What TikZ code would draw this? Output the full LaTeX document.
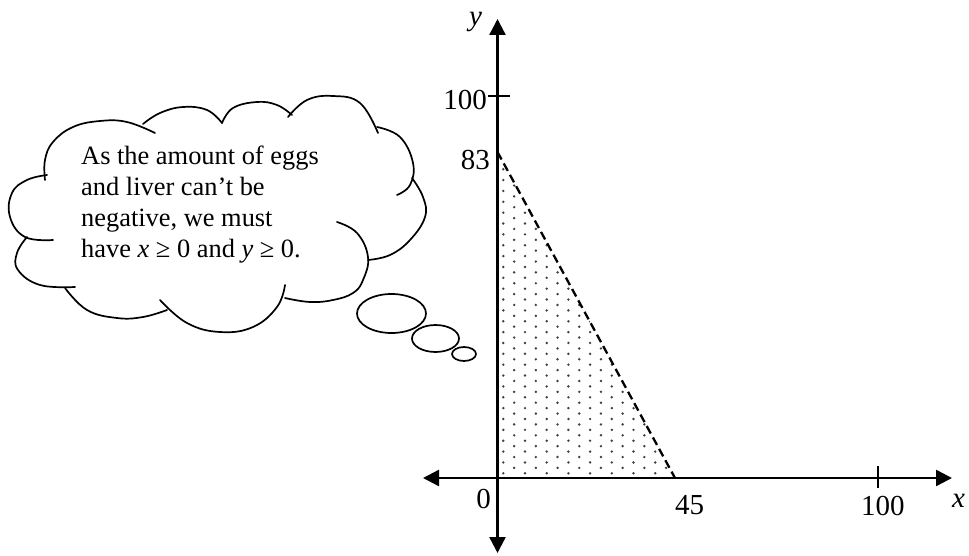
\documentclass[tikz,border=0pt]{standalone}
\usepackage{fontspec}
\setmainfont{Liberation Serif}
\usetikzlibrary{arrows.meta}
\begin{document}
\begin{tikzpicture}[x=1pt,y=-1pt,
  axisline/.style={line width=2.4pt},
  tip/.tip={Triangle[length=16pt,width=16pt]},
  ticks/.style={line width=1.8pt},
  cloudline/.style={line width=1.7pt, line cap=round},
  numlabel/.style={font=\fontsize{29}{32}\selectfont, inner sep=0pt},
  dotcol/.style={fill=black!75}]
\useasboundingbox (0,0) rectangle (969,556);

% axis coordinates
\coordinate (xl) at (423,478);
\coordinate (xr) at (952,478);
\coordinate (yb) at (497.5,553);
\coordinate (yt) at (497.5,19);
\coordinate (o) at (497.5,478);
\coordinate (p83) at (497.5,152);
\coordinate (p45) at (675,478);
\coordinate (ty1) at (488,96);
\coordinate (ty2) at (510,96);
\coordinate (tx1) at (878,466);
\coordinate (tx2) at (878,488);

% dotted region
\begin{scope}
  \clip (p83) -- (p45) -- (o) -- cycle;
  \foreach \i in {0,...,17} {
    \pgfmathsetmacro{\off}{mod(\i,2)*5.43}
    \foreach \j in {0,...,31} {
      \fill[dotcol] (503.3+\i*10.85, 473.3-\off-\j*10.86) circle (1.35);
    }
  }
\end{scope}

% dashed boundary
\draw[line width=2.3pt, dash pattern=on 8.5pt off 4.5pt] (p83) -- (p45);

% axes
\draw[axisline, {tip}-{tip}] (xl) -- (xr);
\draw[axisline, {tip}-{tip}] (yb) -- (yt);
\draw[ticks] (ty1) -- (ty2);
\draw[ticks] (tx1) -- (tx2);

% labels
\node[numlabel, anchor=base east] (l100y) at (487,110) {100};
\node[numlabel, anchor=base east] (l83) at (490,170) {83};
\node[numlabel, anchor=base east] (l0) at (491,508) {0};
\node[numlabel, anchor=base west] (l45) at (675,514) {45};
\node[numlabel, anchor=base west] (l100x) at (861,515) {100};
\node[numlabel, anchor=base west] (lx) at (952,507) {\itshape x};
\node[numlabel, anchor=base west] (ly) at (469,26) {\itshape y};

% cloud
\draw[cloudline] plot[smooth, tension=0.7] coordinates {(45,180) (45,160) (53,142) (73,127) (100,121) (127,122) (155,133)};
\draw[cloudline] plot[smooth, tension=0.7] coordinates {(143,124) (160,113) (183,107) (207,110) (222,123)};
\draw[cloudline] plot[smooth, tension=0.7] coordinates {(222,123) (233,108) (257,102) (277,105) (292,115)};
\draw[cloudline] plot[smooth, tension=0.7] coordinates {(288,117) (307,100) (333,96) (360,103) (378,133)};
\draw[cloudline] plot[smooth, tension=0.7] coordinates {(377,127) (400,137) (413,163) (410,185) (397,195)};
\draw[cloudline] plot[smooth, tension=0.7] coordinates {(412,178) (423,197) (425,217) (410,240) (390,255) (368,260)};
\draw[cloudline] plot[smooth, tension=0.7] coordinates {(337,222) (357,233) (368,257) (363,280) (353,293) (333,300) (310,302) (285,298)};
\draw[cloudline] plot[smooth, tension=0.7] coordinates {(285,285) (277,307) (253,327) (220,332) (187,323) (160,300)};
\draw[cloudline] plot[smooth, tension=0.7] coordinates {(167,310) (143,317) (117,318) (87,310) (65,288)};
\draw[cloudline] plot[smooth, tension=0.7] coordinates {(75,287) (40,285) (18,270) (17,253) (27,237)};
\draw[cloudline] plot[smooth, tension=0.7] coordinates {(53,240) (25,237) (10,217) (12,193) (27,180) (47,175)};

% thought bubbles
\draw[cloudline] (391.5,313.5) ellipse [x radius=34.5, y radius=19.5];
\draw[cloudline] (435.5,338.5) ellipse [x radius=23.5, y radius=13.5];
\draw[cloudline] (464,354) ellipse [x radius=12, y radius=7];

% cloud text
\node[anchor=north west, align=left, inner sep=0pt,
      font=\fontsize{26.4}{31}\selectfont] (txt) at (81,146)
  {As the amount of eggs\\and liver can’t be\\negative, we must\\have \textit{x} ≥ 0 and \textit{y} ≥ 0.};
\end{tikzpicture}
\end{document}
